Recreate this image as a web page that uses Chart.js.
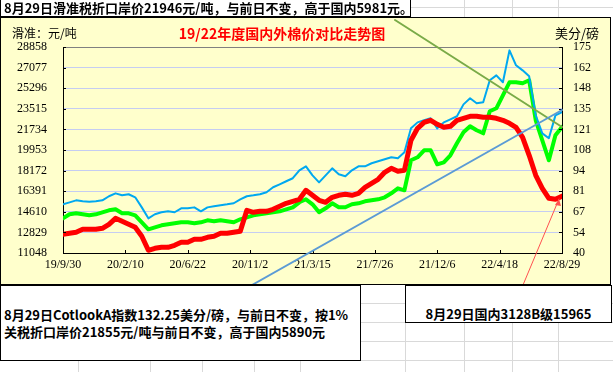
<!DOCTYPE html>
<html>
<head>
<meta charset="utf-8">
<script src="https://cdn.jsdelivr.net/npm/chart.js@4/dist/chart.umd.min.js"></script>
<style>
  body { margin: 0; width: 613px; height: 372px; overflow: hidden; position: relative; background: #fff;
         font-family: "Noto Sans CJK SC", sans-serif; }
  .gv { position: absolute; top: 0; width: 1px; height: 372px; background: #d9d9d9; }
  .gh { position: absolute; left: 0; height: 1px; width: 613px; background: #d9d9d9; }
  #chartBox { position: absolute; left: 0; top: 17px; width: 611px; height: 268px; background: #ffffcc; }
  #chartBorder { position: absolute; left: 0; top: 17px; width: 611px; height: 268px; box-sizing: border-box;
                 border: 1px solid #000; pointer-events: none; }
  .lbl { position: absolute; white-space: nowrap; line-height: 16px; }
  .box { position: absolute; background: #fff; border: 1px solid #000; box-sizing: border-box;
         font-weight: bold; font-size: 13px; white-space: nowrap; }
</style>
</head>
<body>
<!-- sheet gridlines -->
<div class="gv" style="left:78px"></div>
<div class="gv" style="left:150px"></div>
<div class="gv" style="left:202px"></div>
<div class="gv" style="left:254px"></div>
<div class="gv" style="left:300px"></div>
<div class="gv" style="left:405px"></div>
<div class="gv" style="left:464px"></div>
<div class="gv" style="left:512px"></div>
<div class="gv" style="left:558px"></div>
<div class="gh" style="top:7px"></div>
<div class="gh" style="top:303px"></div>
<div class="gh" style="top:322px"></div>
<div class="gh" style="top:341px"></div>
<div class="gh" style="top:360px"></div>

<div id="chartBox"><canvas id="cottonChart" width="611" height="268"></canvas></div>
<div id="chartBorder"></div>

<div class="lbl" style="left:12px;top:25px;font-size:12px;">滑准：元/吨</div>
<div class="lbl" style="left:282px;top:25px;transform:translateX(-50%);font-size:14px;font-weight:bold;color:#ff0000;">19/22年度国内外棉价对比走势图</div>
<div class="lbl" style="left:555px;top:25px;font-size:13px;">美分/磅</div>

<div class="box" style="left:0;top:-2px;width:411px;height:20px;border-bottom-width:2px;line-height:18px;padding-left:3px;">8月29日滑准税折口岸价21946元/吨，与前日不变，高于国内5981元。</div>

<div class="box" style="left:0;top:285px;width:361px;height:76px;padding-left:3px;display:flex;align-items:center;line-height:17px;">
  <div>8月29日CotlookA指数132.25美分/磅，与前日不变，按1%<br>关税折口岸价21855元/吨与前日不变，高于国内5890元</div>
</div>
<div class="box" style="left:405px;top:285px;width:207px;height:38px;text-align:center;padding-top:20px;line-height:16px;">8月29日国内3128B级15965</div>

<script>
// days since 2019-09-30
const days = [0, 14, 28, 42, 56, 70, 84, 98, 112, 126,
    140, 154, 168, 182, 196, 210, 224, 238, 252, 266,
    280, 294, 308, 322, 336, 350, 364, 378, 392, 406,
    420, 434, 448, 462, 476, 490, 504, 518, 532, 546,
    560, 574, 588, 602, 616, 630, 644, 658, 672, 686,
    700, 714, 728, 742, 756, 770, 784, 798, 812, 826,
    840, 854, 868, 882, 896, 910, 924, 938, 952, 966,
    980, 994, 1008, 1022, 1036, 1050, 1064];

// Cotlook A index, US cents/lb (right axis)
const cotlookA = [71.9, 73.2, 74.5, 73.9, 73.6, 73.9, 74.5, 77.2, 79.1, 77.8,
    78.5, 76.5, 69.9, 62.7, 65.4, 66.7, 67.3, 66.7, 69.3, 69.3,
    69.9, 67.3, 69.9, 70.6, 71.3, 71.9, 72.6, 75.2, 77.2, 77.8,
    78.5, 79.8, 83.1, 85.0, 87.0, 89.0, 94.2, 96.8, 90.9, 86.3,
    90.9, 95.5, 91.6, 90.3, 94.2, 96.8, 96.8, 98.8, 100.1, 101.4,
    102.7, 102.1, 106.0, 121.7, 125.6, 127.0, 128.3, 121.7, 125.6, 127.6,
    129.6, 137.4, 141.4, 138.1, 138.8, 153.2, 156.4, 151.9, 172.8, 163.0,
    159.7, 155.8, 130.2, 118.4, 115.2, 130.2, 132.25];

// sliding-tariff landed price, yuan/t (left axis)
const slidingPrice = [14048, 14394, 14480, 14394, 14308, 14394, 14567, 14740, 14826, 14480,
    14480, 14308, 13702, 13097, 13270, 13443, 13529, 13616, 13702, 13702,
    13616, 13702, 13875, 13789, 13875, 13789, 13702, 13962, 14135, 14308,
    14394, 14480, 14567, 14653, 14826, 14999, 15432, 15691, 15259, 14567,
    14913, 15345, 14999, 14999, 15259, 15345, 15518, 15604, 15691, 15864,
    16210, 16642, 16469, 19063, 19322, 19927, 19927, 18717, 18890, 19495,
    20533, 21484, 22002, 21657, 21397, 23300, 23559, 24683, 25807, 25807,
    25720, 25980, 22521, 20792, 19063, 21224, 21946];

// domestic 3128B, yuan/t (left axis)
const domestic3128B = [12665, 12751, 12838, 13097, 13097, 13097, 13184, 13529, 14048, 13789,
    13529, 13270, 12492, 11281, 11454, 11541, 11541, 11714, 11973, 11973,
    12232, 12232, 12405, 12492, 12751, 12751, 12838, 12924, 14740, 14567,
    14653, 14653, 14826, 15086, 15345, 15518, 15691, 16469, 16037, 15604,
    15432, 15864, 16037, 16123, 16037, 16210, 16728, 17074, 17420, 18025,
    18371, 18112, 18198, 20792, 21830, 22348, 22521, 22175, 21916, 22002,
    22521, 22694, 22867, 22867, 22780, 22780, 22694, 22521, 22262, 21916,
    21051, 19495, 17766, 16642, 15777, 15691, 15965];

const xTickDays = [0, 133, 266, 399, 532, 665, 798, 931, 1064];
const xTickLabels = ["19/9/30", "20/2/10", "20/6/22", "20/11/2", "21/3/15", "21/7/26", "21/12/6", "22/4/18", "22/8/29"];
const leftTicks = [11048, 12829, 14610, 16391, 18172, 19953, 21734, 23515, 25296, 27077, 28858];
const rightTicks = [40, 53.5, 67, 80.5, 94, 107.5, 121, 134.5, 148, 161.5, 175];

function toPoints(vals) {
    return vals.map((v, i) => ({ x: days[i], y: v }));
}

const tickFont = { family: "'Liberation Serif', serif", size: 12 };

// inward tick marks + top border of plot area
const axisMarks = {
    id: "axisMarks",
    afterDraw(chart) {
        const ctx = chart.ctx;
        const a = chart.chartArea;
        ctx.save();
        ctx.strokeStyle = "#808080";
        ctx.lineWidth = 1;
        ctx.beginPath();
        ctx.moveTo(a.left, a.top + 0.5);
        ctx.lineTo(a.right, a.top + 0.5);
        ctx.stroke();
        ctx.strokeStyle = "#000";
        ctx.beginPath();
        xTickDays.forEach(d => {
            const x = Math.round(chart.scales.x.getPixelForValue(d)) + 0.5;
            ctx.moveTo(x, a.bottom);
            ctx.lineTo(x, a.bottom - 3);
        });
        leftTicks.forEach(t => {
            const y = Math.round(chart.scales.y.getPixelForValue(t)) + 0.5;
            ctx.moveTo(a.left, y);
            ctx.lineTo(a.left + 3, y);
        });
        rightTicks.forEach(t => {
            const y = Math.round(chart.scales.y1.getPixelForValue(t)) + 0.5;
            ctx.moveTo(a.right, y);
            ctx.lineTo(a.right - 3, y);
        });
        ctx.stroke();
        ctx.restore();
    }
};

// hand-drawn shapes sitting on the sheet chart
const drawnShapes = {
    id: "drawnShapes",
    afterDraw(chart) {
        const ctx = chart.ctx;
        ctx.save();
        ctx.lineCap = "round";
        // olive trend line
        ctx.strokeStyle = "#7aab48";
        ctx.lineWidth = 2;
        ctx.beginPath();
        ctx.moveTo(395, 3);
        ctx.lineTo(562, 110);
        ctx.stroke();
        // blue trend line
        ctx.strokeStyle = "#5b9bd5";
        ctx.beginPath();
        ctx.moveTo(252, 268);
        ctx.lineTo(562, 93);
        ctx.stroke();
        // thin red arrow
        ctx.strokeStyle = "#ff5050";
        ctx.fillStyle = "#ff5050";
        ctx.lineWidth = 1;
        ctx.beginPath();
        ctx.moveTo(523, 268);
        ctx.lineTo(559, 182);
        ctx.stroke();
        ctx.beginPath();
        ctx.moveTo(559, 182);
        ctx.lineTo(555, 188);
        ctx.lineTo(561, 189);
        ctx.closePath();
        ctx.fill();
        ctx.restore();
    }
};

new Chart(document.getElementById("cottonChart"), {
    type: "line",
    data: {
        datasets: [
            { label: "国内3128B", data: toPoints(domestic3128B), yAxisID: "y", borderColor: "#ff0000", borderWidth: 5, order: 0 },
            { label: "CotlookA", data: toPoints(cotlookA), yAxisID: "y1", borderColor: "#00a8f0", borderWidth: 2, order: 1 },
            { label: "滑准税折口岸价", data: toPoints(slidingPrice), yAxisID: "y", borderColor: "#00ff00", borderWidth: 4, order: 2 }
        ]
    },
    options: {
        responsive: false,
        animation: false,
        events: [],
        elements: { point: { radius: 0 }, line: { tension: 0, borderJoinStyle: "round", borderCapStyle: "round" } },
        layout: { padding: { top: 30, left: 0, right: 0, bottom: 0 } },
        plugins: { legend: { display: false }, tooltip: { enabled: false } },
        scales: {
            x: {
                type: "linear", min: 0, max: 1064,
                afterBuildTicks: s => { s.ticks = xTickDays.map(v => ({ value: v })); },
                afterFit: s => { s.height = 32; },
                ticks: {
                    font: tickFont, color: "#000", padding: 5, maxRotation: 0, autoSkip: false,
                    callback: v => xTickLabels[xTickDays.indexOf(v)]
                },
                grid: { display: false, drawTicks: false },
                border: { display: true, color: "#000", width: 1 }
            },
            y: {
                position: "left", min: 11048, max: 28858,
                afterBuildTicks: s => { s.ticks = leftTicks.map(v => ({ value: v })); },
                afterFit: s => { s.width = 63; },
                ticks: { font: tickFont, color: "#000", padding: 16, callback: v => String(v) },
                grid: { color: "#c5cdf2", drawTicks: false },
                border: { display: true, color: "#000", width: 1 }
            },
            y1: {
                position: "right", min: 40, max: 175,
                afterBuildTicks: s => { s.ticks = rightTicks.map(v => ({ value: v })); },
                afterFit: s => { s.width = 49; },
                ticks: { font: tickFont, color: "#000", padding: 11, callback: v => String(Math.round(v)) },
                grid: { display: false, drawTicks: false },
                border: { display: true, color: "#000", width: 1 }
            }
        }
    },
    plugins: [axisMarks, drawnShapes]
});
</script>
</body>
</html>
